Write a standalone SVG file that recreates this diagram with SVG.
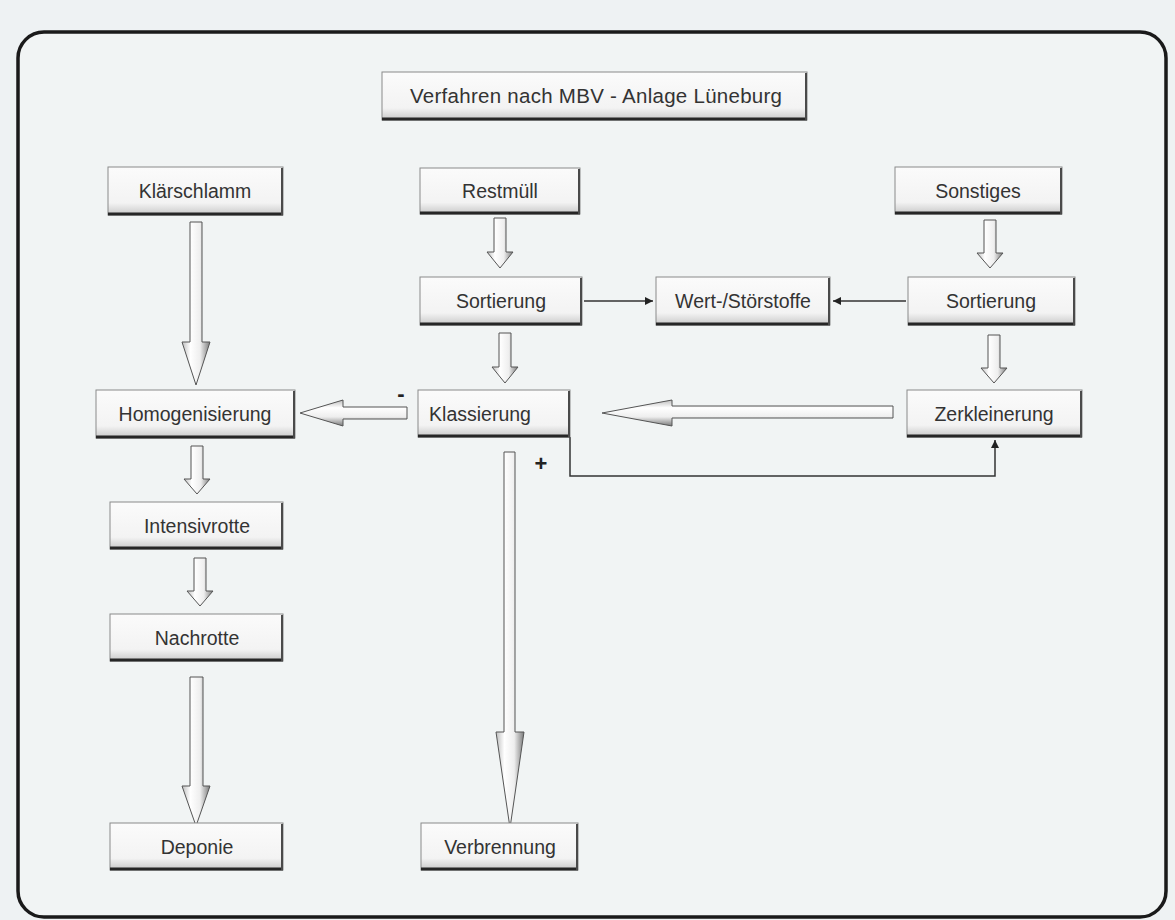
<svg xmlns="http://www.w3.org/2000/svg" width="1175" height="920" viewBox="0 0 1175 920">
<defs>
<linearGradient id="boxg" x1="0" y1="0" x2="0" y2="1">
<stop offset="0" stop-color="#fbfbfb"/><stop offset="0.75" stop-color="#f3f3f3"/><stop offset="1" stop-color="#c8c8c8"/>
</linearGradient>
<linearGradient id="vg" x1="0" y1="0" x2="1" y2="0">
<stop offset="0" stop-color="#bdbdbd"/><stop offset="0.3" stop-color="#ffffff"/><stop offset="0.65" stop-color="#eeeeee"/><stop offset="1" stop-color="#7a7a7a"/>
</linearGradient>
<linearGradient id="hg" x1="0" y1="0" x2="0" y2="1">
<stop offset="0" stop-color="#bdbdbd"/><stop offset="0.3" stop-color="#ffffff"/><stop offset="0.65" stop-color="#eeeeee"/><stop offset="1" stop-color="#7a7a7a"/>
</linearGradient>
<marker id="ah" viewBox="0 0 10 10" refX="10" refY="5" markerWidth="8" markerHeight="8" orient="auto" markerUnits="userSpaceOnUse">
<path d="M0,0 L10,5 L0,10 Z" fill="#222"/>
</marker>
<style>
.box{fill:url(#boxg);stroke:#8a8a8a;stroke-width:1}
.bb{stroke:#262626;stroke-width:3;fill:none}
.br{stroke:#4a4a4a;stroke-width:2;fill:none}
.t{font-family:"Liberation Sans",Arial,sans-serif;font-size:19.5px;fill:#333;text-anchor:middle}
.tt{font-family:"Liberation Sans",Arial,sans-serif;font-size:20.5px;fill:#333;text-anchor:middle}
.va{fill:url(#vg);stroke:#555;stroke-width:1}
.ha{fill:url(#hg);stroke:#555;stroke-width:1}
.ln{stroke:#333;stroke-width:1.5;fill:none}
.lbl{font-family:"Liberation Sans",Arial,sans-serif;font-size:22px;font-weight:bold;fill:#222;text-anchor:middle}
</style>
</defs>
<rect width="1175" height="920" fill="#eef2f3"/>
<rect x="18" y="32" width="1148" height="885" rx="26" fill="#f1f4f4" stroke="#1a1a1a" stroke-width="3.5"/>

<g id="connectors">
<path class="va" d="M494,218 H506 V252 H513 L500,268 L487,252 H494 Z"/>
<path class="va" d="M499,333 H511 V367 H518 L505,383 L492,367 H499 Z"/>
<path class="va" d="M984,220 H996 V253 H1003 L990,268 L977,253 H984 Z"/>
<path class="va" d="M988,335 H1000 V368 H1007 L994,383 L981,368 H988 Z"/>
<path class="va" d="M191,446 H203 V479 H210 L197,494 L184,479 H191 Z"/>
<path class="va" d="M194,558 H206 V591 H213 L200,606 L187,591 H194 Z"/>
<path class="va" d="M190,222 H202 V342 H210 L196,385 L182,342 H190 Z"/>
<path class="va" d="M190,677 H203 V786 H210 L196,826 L182,786 H190 Z"/>
<path class="va" d="M504,452 H515 V732 H524 L510,828 L496,732 H504 Z"/>
<path class="ha" d="M407,407 V419 H343 V426 L300,413 L343,400 V407 Z"/>
<path class="ha" d="M893,406 V418 H672 V426 L602,413 L672,400 V406 Z"/>
<line class="ln" x1="584" y1="301" x2="653" y2="301" marker-end="url(#ah)"/>
<line class="ln" x1="906" y1="301" x2="833" y2="301" marker-end="url(#ah)"/>
<polyline class="ln" points="570,437 570,476 995,476 995,440" marker-end="url(#ah)"/>
<text class="lbl" x="401" y="401">-</text>
<text class="lbl" x="541" y="471">+</text>
</g>

<g id="title">
<rect class="box" x="382" y="72" width="425" height="48"/>
<line class="bb" x1="382" y1="119" x2="807" y2="119"/><line class="br" x1="806" y1="73" x2="806" y2="120"/>
<text class="tt" x="596" y="103" textLength="372">Verfahren nach MBV - Anlage Lüneburg</text>
</g>
<g id="klaerschlamm">
<rect class="box" x="108" y="167" width="175" height="48"/>
<line class="bb" x1="108" y1="214" x2="283" y2="214"/><line class="br" x1="282" y1="168" x2="282" y2="215"/>
<text class="t" x="195" y="198">Klärschlamm</text>
</g>
<g id="restmuell">
<rect class="box" x="420" y="168" width="160" height="46"/>
<line class="bb" x1="420" y1="213" x2="580" y2="213"/><line class="br" x1="579" y1="169" x2="579" y2="214"/>
<text class="t" x="500" y="198">Restmüll</text>
</g>
<g id="sonstiges">
<rect class="box" x="895" y="167" width="167" height="47"/>
<line class="bb" x1="895" y1="213" x2="1062" y2="213"/><line class="br" x1="1061" y1="168" x2="1061" y2="214"/>
<text class="t" x="978" y="198">Sonstiges</text>
</g>
<g id="sortierung1">
<rect class="box" x="420" y="277" width="162" height="48"/>
<line class="bb" x1="420" y1="324" x2="582" y2="324"/><line class="br" x1="581" y1="278" x2="581" y2="325"/>
<text class="t" x="501" y="308">Sortierung</text>
</g>
<g id="wertstoerstoffe">
<rect class="box" x="656" y="277" width="174" height="48"/>
<line class="bb" x1="656" y1="324" x2="830" y2="324"/><line class="br" x1="829" y1="278" x2="829" y2="325"/>
<text class="t" x="743" y="308">Wert-/Störstoffe</text>
</g>
<g id="sortierung2">
<rect class="box" x="908" y="277" width="167" height="48"/>
<line class="bb" x1="908" y1="324" x2="1075" y2="324"/><line class="br" x1="1074" y1="278" x2="1074" y2="325"/>
<text class="t" x="991" y="308">Sortierung</text>
</g>
<g id="homogenisierung">
<rect class="box" x="96" y="390" width="199" height="48"/>
<line class="bb" x1="96" y1="437" x2="295" y2="437"/><line class="br" x1="294" y1="391" x2="294" y2="438"/>
<text class="t" x="195" y="421">Homogenisierung</text>
</g>
<g id="klassierung">
<rect class="box" x="418" y="390" width="152" height="47"/>
<line class="bb" x1="418" y1="436" x2="570" y2="436"/><line class="br" x1="569" y1="391" x2="569" y2="437"/>
<text class="t" x="480" y="421">Klassierung</text>
</g>
<g id="zerkleinerung">
<rect class="box" x="907" y="390" width="175" height="47"/>
<line class="bb" x1="907" y1="436" x2="1082" y2="436"/><line class="br" x1="1081" y1="391" x2="1081" y2="437"/>
<text class="t" x="994" y="421">Zerkleinerung</text>
</g>
<g id="intensivrotte">
<rect class="box" x="110" y="502" width="173" height="47"/>
<line class="bb" x1="110" y1="548" x2="283" y2="548"/><line class="br" x1="282" y1="503" x2="282" y2="549"/>
<text class="t" x="197" y="533">Intensivrotte</text>
</g>
<g id="nachrotte">
<rect class="box" x="110" y="614" width="173" height="47"/>
<line class="bb" x1="110" y1="660" x2="283" y2="660"/><line class="br" x1="282" y1="615" x2="282" y2="661"/>
<text class="t" x="197" y="645">Nachrotte</text>
</g>
<g id="deponie">
<rect class="box" x="110" y="823" width="173" height="47"/>
<line class="bb" x1="110" y1="869" x2="283" y2="869"/><line class="br" x1="282" y1="824" x2="282" y2="870"/>
<text class="t" x="197" y="854">Deponie</text>
</g>
<g id="verbrennung">
<rect class="box" x="421" y="823" width="157" height="47"/>
<line class="bb" x1="421" y1="869" x2="578" y2="869"/><line class="br" x1="577" y1="824" x2="577" y2="870"/>
<text class="t" x="500" y="854">Verbrennung</text>
</g>
</svg>
